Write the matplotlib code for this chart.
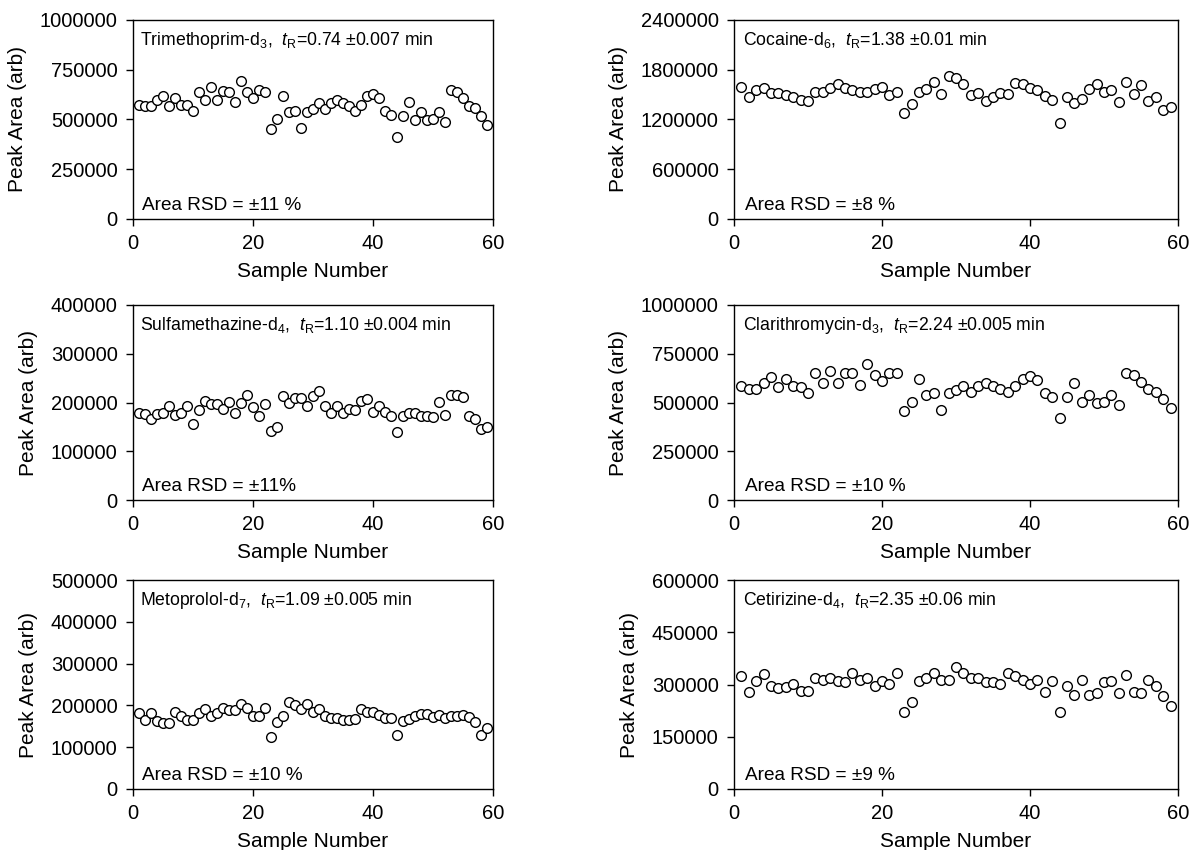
import numpy as np
import matplotlib.pyplot as plt
from matplotlib.ticker import FuncFormatter, MultipleLocator

plt.rcParams['font.family'] = ['Liberation Sans', 'DejaVu Sans']
plt.rcParams['mathtext.fontset'] = 'custom'
plt.rcParams['mathtext.rm'] = 'Liberation Sans'
plt.rcParams['mathtext.it'] = 'Liberation Sans:italic'

samples = np.arange(1, 60)

trimethoprim = [573, 566, 566, 596, 619, 566, 610, 573, 573, 544,
                640, 596, 663, 596, 645, 640, 589, 691, 640, 610,
                647, 640, 451, 502, 617, 538, 545, 458, 538, 552,
                584, 552, 584, 596, 582, 566, 545, 575, 617, 626,
                610, 545, 523, 414, 516, 589, 495, 538, 495, 502,
                536, 486, 649, 640, 606, 570, 556, 520, 471]

cocaine = [1597, 1466, 1554, 1584, 1523, 1523, 1496, 1466, 1439, 1426,
           1537, 1527, 1581, 1624, 1581, 1550, 1537, 1537, 1567, 1597,
           1496, 1537, 1284, 1382, 1537, 1567, 1651, 1510, 1719, 1705,
           1624, 1496, 1523, 1426, 1466, 1523, 1510, 1638, 1624, 1581,
           1550, 1483, 1439, 1153, 1466, 1399, 1453, 1567, 1624, 1537,
           1554, 1412, 1651, 1510, 1611, 1426, 1466, 1314, 1355]

sulfamethazine = [179, 176, 166, 177, 179, 193, 175, 179, 193, 155,
                  184, 204, 196, 196, 186, 201, 179, 199, 216, 190,
                  173, 196, 141, 149, 213, 199, 210, 210, 193, 213,
                  224, 193, 179, 193, 179, 186, 184, 204, 207, 181,
                  193, 181, 173, 139, 173, 179, 179, 173, 173, 170,
                  201, 175, 215, 215, 212, 172, 166, 145, 150]

clarithromycin = [586, 568, 568, 599, 630, 577, 620, 586, 577, 550,
                  649, 599, 664, 599, 649, 649, 591, 697, 640, 611,
                  649, 649, 455, 505, 620, 541, 550, 464, 550, 563,
                  586, 556, 586, 599, 586, 568, 556, 586, 620, 635,
                  613, 550, 529, 421, 529, 599, 505, 541, 498, 505,
                  536, 486, 649, 640, 606, 570, 556, 520, 471]

metoprolol = [182, 166, 182, 162, 159, 157, 185, 175, 166, 166,
              181, 191, 175, 182, 193, 189, 189, 203, 193, 174,
              174, 193, 125, 160, 174, 209, 201, 191, 203, 184,
              191, 175, 171, 171, 166, 166, 168, 191, 184, 184,
              178, 171, 171, 130, 163, 168, 175, 179, 179, 172,
              178, 170, 175, 175, 178, 172, 160, 130, 145]

cetirizine = [324, 279, 310, 331, 297, 289, 293, 302, 280, 280,
              318, 314, 318, 310, 306, 332, 314, 318, 297, 310,
              302, 332, 220, 249, 310, 318, 332, 314, 314, 349,
              332, 318, 318, 306, 306, 302, 332, 324, 314, 302,
              314, 279, 310, 220, 297, 271, 314, 271, 275, 306,
              310, 275, 328, 279, 275, 314, 297, 267, 238]

# peak areas above are in thousands
series = [trimethoprim, cocaine, sulfamethazine, clarithromycin, metoprolol, cetirizine]
labels = ['Trimethoprim-d$_3$,  $\\mathit{t}_\\mathrm{R}$=0.74 ±0.007 min',
          'Cocaine-d$_6$,  $\\mathit{t}_\\mathrm{R}$=1.38 ±0.01 min',
          'Sulfamethazine-d$_4$,  $\\mathit{t}_\\mathrm{R}$=1.10 ±0.004 min',
          'Clarithromycin-d$_3$,  $\\mathit{t}_\\mathrm{R}$=2.24 ±0.005 min',
          'Metoprolol-d$_7$,  $\\mathit{t}_\\mathrm{R}$=1.09 ±0.005 min',
          'Cetirizine-d$_4$,  $\\mathit{t}_\\mathrm{R}$=2.35 ±0.06 min']
rsd_text = ['Area RSD = ±11 %', 'Area RSD = ±8 %', 'Area RSD = ±11%',
            'Area RSD = ±10 %', 'Area RSD = ±10 %', 'Area RSD = ±9 %']
ymax = [1000000, 2400000, 400000, 1000000, 500000, 600000]
ystep = [250000, 600000, 100000, 250000, 100000, 150000]

W, H = 1198, 850
fig = plt.figure(figsize=(W / 100, H / 100), dpi=100)

# axes boxes in pixels: left, top, right, bottom
cols = [(133, 493), (734, 1178)]
rows = [(20, 219), (305, 500), (580, 789)]

for i, vals in enumerate(series):
    x0, x1 = cols[i % 2]
    y0, y1 = rows[i // 2]
    ax = fig.add_axes([x0 / W, 1 - y1 / H, (x1 - x0) / W, (y1 - y0) / H])
    ax.plot(samples, np.array(vals) * 1000, 'o', mfc='white', mec='black',
            ms=7, mew=1.0, clip_on=False)
    ax.set_xlim(0, 60)
    ax.set_ylim(0, ymax[i])
    ax.xaxis.set_major_locator(MultipleLocator(20))
    ax.yaxis.set_major_locator(MultipleLocator(ystep[i]))
    ax.yaxis.set_major_formatter(FuncFormatter(lambda v, p: '%d' % v))
    ax.tick_params(direction='out', length=5, width=1, labelsize=14.5,
                   top=False, right=False, pad=6)
    for s in ax.spines.values():
        s.set_linewidth(1)
    ax.set_xlabel('Sample Number', fontsize=15, labelpad=6)
    ax.set_ylabel('Peak Area (arb)', fontsize=15, labelpad=9)
    ax.text(0.02, 0.95, labels[i], transform=ax.transAxes, fontsize=12.7,
            va='top', ha='left')
    ax.text(0.025, 0.025, rsd_text[i], transform=ax.transAxes, fontsize=13.7,
            va='bottom', ha='left')

fig.savefig('out.png', dpi=100)
